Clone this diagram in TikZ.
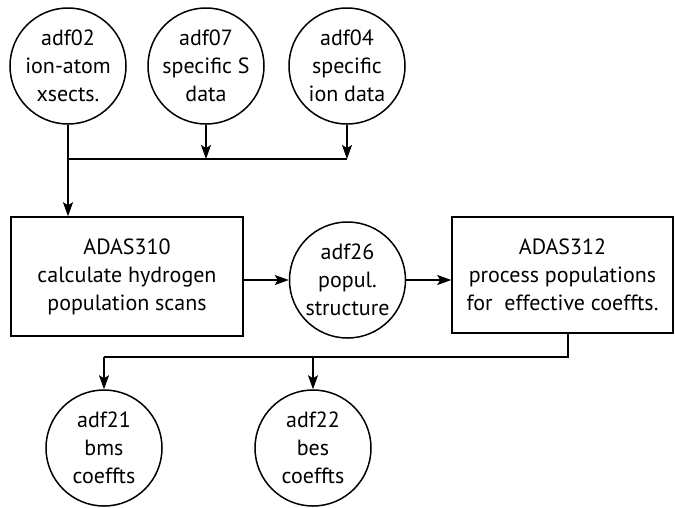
\documentclass[tikz,border=0pt]{standalone}
\usepackage{fontspec}
\setmainfont{PT Sans}
\usetikzlibrary{arrows.meta}
\tikzset{
  datafile/.style={draw, circle, line width=1.5pt, minimum size=116pt, inner sep=0pt, align=center},
  program/.style={draw, rectangle, line width=1.5pt, inner sep=0pt, align=center},
  flow/.style={line width=1.5pt, -{Stealth[length=14pt,width=10pt,inset=3pt]}},
  link/.style={line width=1.5pt}
}
\begin{document}
\begin{tikzpicture}[x=1pt,y=-1pt,font=\fontsize{22}{28}\selectfont]
            \useasboundingbox (0,0) rectangle (675,507);

            % input data files
            \node[datafile] (adf02) at (68,66)   {adf02\\ion-atom\\xsects.};
            \node[datafile] (adf07) at (206,66)  {adf07\\specific S\\data};
            \node[datafile] (adf04) at (347,66)  {adf04\\specific\\ion data};

            % codes and population file
            \node[program, minimum width=232pt, minimum height=119pt] 
                (adas310) at (127,276.5) {ADAS310\\calculate hydrogen\\population scans};
            \node[datafile] (adf26) at (347.5,280) {adf26\\popul.\\structure};
            \node[program, minimum width=221pt, minimum height=116pt] 
                (adas312) at (562.5,275) {ADAS312\\process populations\\for~ effective coeffts.};

            % output data files
            \node[datafile] (adf21) at (104,448) {adf21\\bms\\coeffts};
            \node[datafile] (adf22) at (313,448) {adf22\\bes\\coeffts};

            \coordinate (join)  at (68,159);
            \coordinate (split) at (568,357);

            \draw[link] (join) -- (join -| adf04);
            \draw[flow] (adf07.south) -- (adf07.south |- join);
            \draw[flow] (adf04.south) -- (adf04.south |- join);
            \draw[flow] (adf02.south) -- (adf02.south |- adas310.north);

            \draw[flow] (adas310.east |- adf26) -- (adf26.west);
            \draw[flow] (adf26.east) -- (adf26.east -| adas312.west);

            \draw[link] (split |- adas312.south) -- (split) -- (split -| adf21);
            \draw[flow] (split -| adf21) -- (adf21.north);
            \draw[flow] (split -| adf22) -- (adf22.north);
\end{tikzpicture}
\end{document}
